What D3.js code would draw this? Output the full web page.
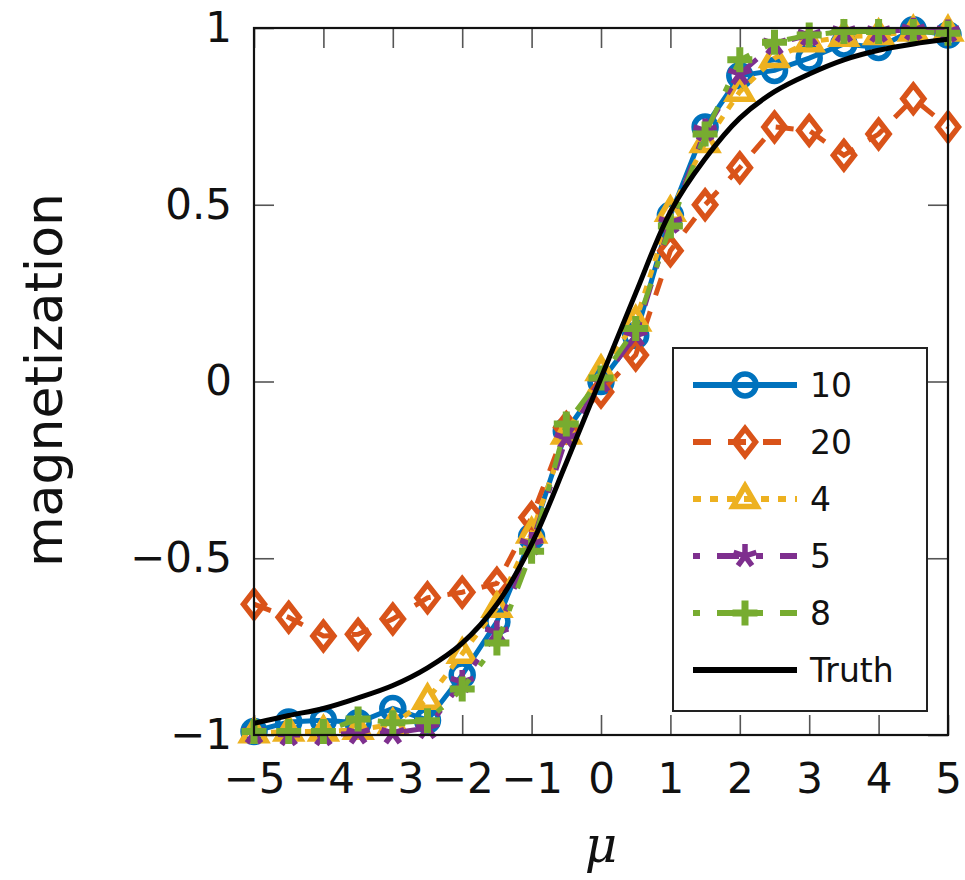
<!DOCTYPE html>
<html>
<head>
<meta charset="utf-8">
<script src="https://cdn.jsdelivr.net/npm/d3@7"></script>
<style>
body { margin: 0; background: #fff; }
svg { display: block; }
</style>
</head>
<body>
<script>

// chemical potential values (x)
var mu = [-5, -4.5, -4, -3.5, -3, -2.5, -2, -1.5, -1, -0.5, 0, 0.5, 1, 1.5, 2, 2.5, 3, 3.5, 4, 4.5, 5];

// magnetization, one array per series
var m10 = [-0.99, -0.963, -0.958, -0.965, -0.925, -0.958, -0.83, -0.68, -0.44, -0.14, 0.0, 0.13, 0.47, 0.72, 0.865, 0.88, 0.915, 0.955, 0.945, 0.995, 0.98];
var m20 = [-0.63, -0.667, -0.72, -0.715, -0.672, -0.612, -0.596, -0.571, -0.385, -0.13, -0.03, 0.075, 0.37, 0.50, 0.605, 0.72, 0.71, 0.64, 0.70, 0.80, 0.72];
var m4 = [-0.995, -0.99, -0.99, -0.985, -0.97, -0.90, -0.77, -0.64, -0.43, -0.15, 0.03, 0.17, 0.48, 0.675, 0.82, 0.915, 0.96, 0.975, 0.98, 0.99, 0.99];
var m5 = [-0.995, -1.0, -1.0, -0.995, -0.995, -0.98, -0.85, -0.71, -0.46, -0.16, 0.0, 0.13, 0.45, 0.71, 0.87, 0.955, 0.98, 0.99, 0.99, 0.995, 0.99];
var m8 = [-0.99, -0.99, -0.99, -0.955, -0.965, -0.96, -0.87, -0.74, -0.48, -0.12, 0.01, 0.15, 0.44, 0.70, 0.91, 0.96, 0.98, 0.99, 0.99, 0.99, 0.985];
var truth = [-0.967, -0.945, -0.925, -0.895, -0.86, -0.81, -0.74, -0.63, -0.46, -0.23, 0.01, 0.25, 0.48, 0.63, 0.745, 0.82, 0.87, 0.91, 0.937, 0.955, 0.968];

var legendNames = ["10", "20", "4", "5", "8", "Truth"];
var xTicks = [-5, -4, -3, -2, -1, 0, 1, 2, 3, 4, 5];
var yTicks = [-1, -0.5, 0, 0.5, 1];

var series = [
  {name: "10", vals: m10, color: "#0072BD", dash: null, off: 0, mark: "circle"},
  {name: "20", vals: m20, color: "#D95319", dash: "18 17", off: 0, mark: "diamond"},
  {name: "4", vals: m4, color: "#EDB120", dash: "8 9", off: 0, mark: "triangle"},
  {name: "5", vals: m5, color: "#7E2F8E", dash: "22 17 7 17", off: 39, mark: "star"},
  {name: "8", vals: m8, color: "#77AC30", dash: "22 17 7 17", off: 39, mark: "plus"}
];

var W = 965, H = 880;
var svg = d3.select("body").append("svg").attr("width", W).attr("height", H);

var x = d3.scaleLinear().domain([-5, 5]).range([254, 948]);
var y = d3.scaleLinear().domain([-1, 1]).range([735, 28]);

var tickFont = "'DejaVu Sans', sans-serif";

// marker shapes
function markPath(type) {
  var p = d3.path();
  if (type == "circle") {
    p.moveTo(11, 0); p.arc(0, 0, 11, 0, 2 * Math.PI);
  } else if (type == "diamond") {
    p.moveTo(0, -13.5); p.lineTo(10.5, 0); p.lineTo(0, 13.5); p.lineTo(-10.5, 0); p.closePath();
  } else if (type == "triangle") {
    p.moveTo(0, -13); p.lineTo(12, 7.5); p.lineTo(-12, 7.5); p.closePath();
  } else if (type == "star") {
    for (var k = 0; k < 5; k++) {
      var a = -Math.PI / 2 + k * 2 * Math.PI / 5;
      p.moveTo(0, 0); p.lineTo(12 * Math.cos(a), 12 * Math.sin(a));
    }
  } else if (type == "plus") {
    p.moveTo(-12.5, 0); p.lineTo(12.5, 0); p.moveTo(0, -12.5); p.lineTo(0, 12.5);
  }
  return p.toString();
}
function markWidth(type) {
  if (type == "plus") return 7;
  if (type == "circle") return 5.5;
  if (type == "triangle") return 5.5;
  return 5.5;
}

// inward ticks on all four sides
var g = svg.append("g");

var bottomAxis = d3.axisBottom(x).tickValues(xTicks).tickSize(-20).tickPadding(28);
var topAxis = d3.axisTop(x).tickValues(xTicks).tickSize(-20).tickFormat("");
var leftAxis = d3.axisLeft(y).tickValues(yTicks).tickSize(-20).tickPadding(22).tickFormat(d3.format("~g"));
var rightAxis = d3.axisRight(y).tickValues(yTicks).tickSize(-20).tickFormat("");

function styleAxis(sel) {
  sel.select(".domain").remove();
  sel.selectAll(".tick line").attr("stroke", "#555").attr("stroke-width", 1.6);
  sel.selectAll("text").attr("font-family", tickFont).attr("font-size", 42).attr("fill", "#111");
}

g.append("g").attr("transform", "translate(0,735)").call(bottomAxis).call(styleAxis);
g.append("g").attr("transform", "translate(0,28)").call(topAxis).call(styleAxis);
g.append("g").attr("transform", "translate(254,0)").call(leftAxis).call(styleAxis);
g.append("g").attr("transform", "translate(948,0)").call(rightAxis).call(styleAxis);

// series lines + markers
series.forEach(function (s) {
  var pts = mu.map(function (m, i) { return [m, s.vals[i]]; });
  var line = d3.line().x(function (d) { return x(d[0]); }).y(function (d) { return y(d[1]); });
  svg.append("path")
    .attr("d", line(pts))
    .attr("fill", "none")
    .attr("stroke", s.color)
    .attr("stroke-width", 5)
    .attr("stroke-dasharray", s.dash)
    .attr("stroke-dashoffset", s.off);
  svg.append("g").selectAll("path")
    .data(pts)
    .enter()
    .append("path")
    .attr("transform", function (d) { return "translate(" + x(d[0]) + "," + y(d[1]) + ")"; })
    .attr("d", markPath(s.mark))
    .attr("fill", "none")
    .attr("stroke", s.color)
    .attr("stroke-width", markWidth(s.mark));
});

var truthPts = mu.map(function (m, i) { return [m, truth[i]]; });
svg.append("path")
  .attr("d", d3.line().curve(d3.curveCatmullRom.alpha(0.5))
    .x(function (d) { return x(d[0]); })
    .y(function (d) { return y(d[1]); })(truthPts))
  .attr("fill", "none")
  .attr("stroke", "#000")
  .attr("stroke-width", 5);

// frame on top
svg.append("rect")
  .attr("x", 254).attr("y", 28)
  .attr("width", 948 - 254).attr("height", 735 - 28)
  .attr("fill", "none")
  .attr("stroke", "#111")
  .attr("stroke-width", 2.2);

// legend
var lg = svg.append("g");
lg.append("rect")
  .attr("x", 673).attr("y", 348)
  .attr("width", 254).attr("height", 363)
  .attr("fill", "#fff")
  .attr("stroke", "#222")
  .attr("stroke-width", 2);

var rowY = d3.scalePoint().domain(legendNames).range([385, 670]);
series.forEach(function (s) {
  var yy = rowY(s.name);
  lg.append("line")
    .attr("x1", 693).attr("x2", 797).attr("y1", yy).attr("y2", yy)
    .attr("stroke", s.color).attr("stroke-width", 6)
    .attr("stroke-dasharray", s.dash)
    .attr("stroke-dashoffset", s.off);
  lg.append("path")
    .attr("transform", "translate(745," + yy + ")")
    .attr("d", markPath(s.mark))
    .attr("fill", "none")
    .attr("stroke", s.color)
    .attr("stroke-width", markWidth(s.mark));
});
lg.append("line")
  .attr("x1", 693).attr("x2", 797).attr("y1", rowY("Truth")).attr("y2", rowY("Truth"))
  .attr("stroke", "#000").attr("stroke-width", 6);

lg.selectAll("text.lab")
  .data(legendNames)
  .enter()
  .append("text")
  .attr("x", 810)
  .attr("y", function (d) { return rowY(d); })
  .attr("dy", "0.36em")
  .text(function (d) { return d; })
  .attr("font-family", tickFont)
  .attr("font-size", 33)
  .attr("fill", "#111");

// axis titles
svg.append("text")
  .attr("transform", "translate(62,380) rotate(-90)")
  .attr("text-anchor", "middle")
  .text("magnetization")
  .attr("font-family", tickFont)
  .attr("font-size", 52)
  .attr("fill", "#111");

svg.append("text")
  .attr("x", 601).attr("y", 862)
  .attr("text-anchor", "middle")
  .text("μ")
  .attr("font-family", "'DejaVu Serif', serif")
  .attr("font-style", "italic")
  .attr("font-size", 50)
  .attr("fill", "#111");

</script>
</body>
</html>
